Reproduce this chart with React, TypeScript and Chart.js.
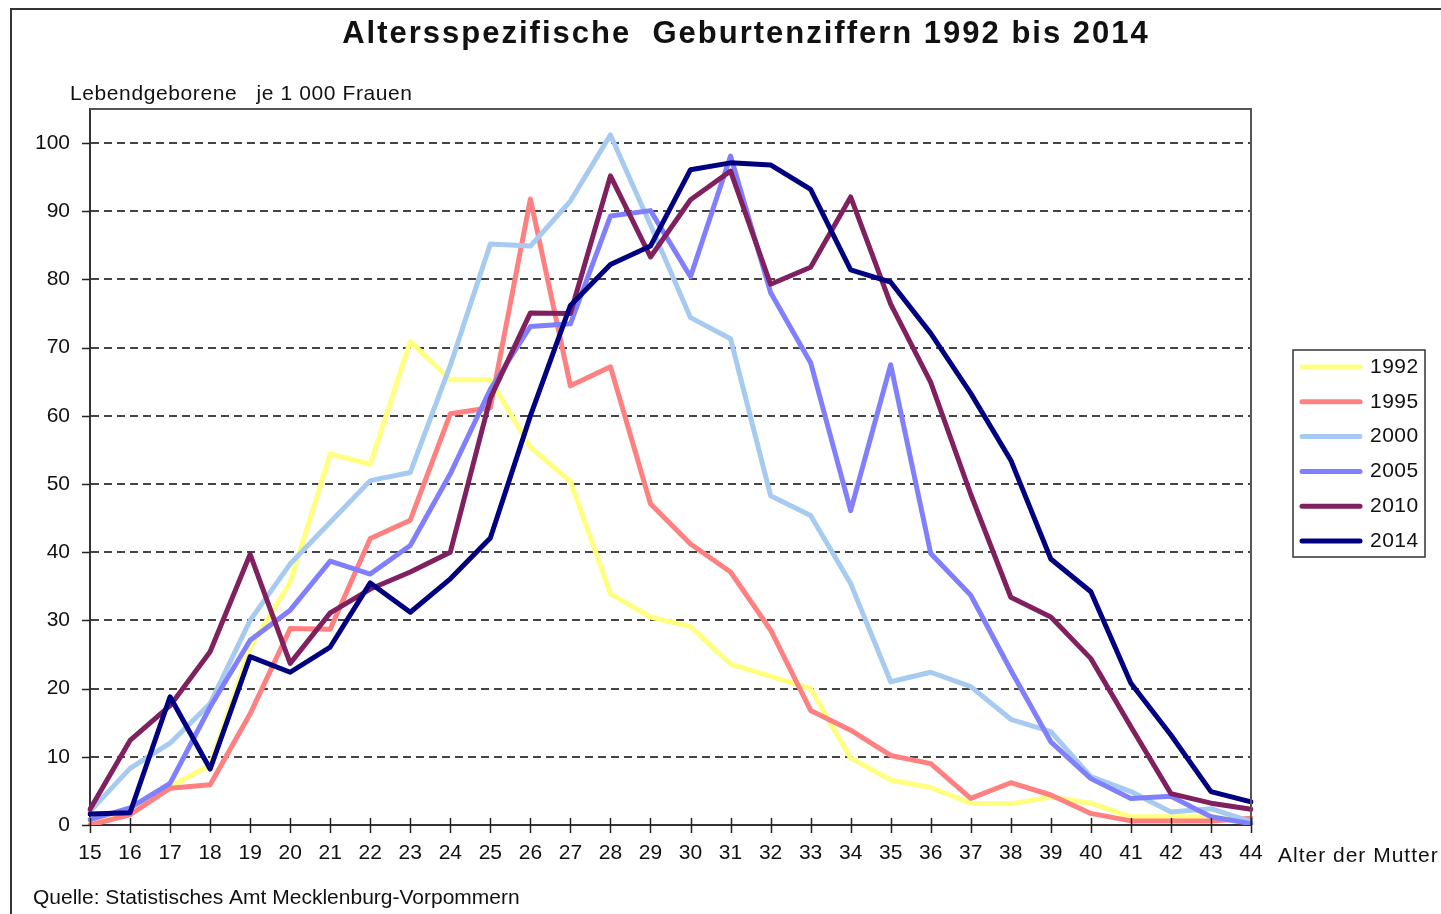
import React, { useEffect, useRef } from "react";
import { Chart, registerables } from "chart.js";

Chart.register(...registerables);

const ages = ["15","16","17","18","19","20","21","22","23","24","25","26","27","28","29","30","31","32","33","34","35","36","37","38","39","40","41","42","43","44"];
const years = ["1992", "1995", "2000", "2005", "2010", "2014"];
const seriesColors = ["#FFFF80", "#FF8080", "#A6CAF0", "#8080FF", "#80205F", "#000080"];

const v1992 = [0.5, 2, 5.6, 8.8, 26, 35.6, 54.4, 52.9, 70.9, 65.3, 65.3, 55.4, 50.4, 33.9, 30.5, 29.1, 23.6, 21.8, 20, 9.8, 6.6, 5.5, 3.2, 3.1, 4.1, 3.2, 1.2, 1.2, 1.2, 0.5];
const v1995 = [0, 1.5, 5.4, 5.9, 16.3, 28.8, 28.7, 42, 44.7, 60.3, 61.2, 91.8, 64.4, 67.2, 47.1, 41.2, 37.1, 28.6, 16.8, 13.9, 10.2, 9.0, 3.9, 6.2, 4.4, 1.7, 0.6, 0.6, 0.6, 1.0];
const v2000 = [2, 8.3, 12, 17.8, 30, 38.3, 44.4, 50.5, 51.7, 67.4, 85.2, 84.9, 91.5, 101.2, 88, 74.4, 71.3, 48.3, 45.4, 35.4, 21, 22.4, 20.3, 15.5, 13.7, 7.1, 4.9, 1.9, 2.4, 0.5];
const v2005 = [0.8, 2.5, 6.1, 17.3, 27.1, 31.5, 38.7, 36.8, 41, 51.5, 63.9, 73.1, 73.5, 89.3, 90.1, 80.4, 98.1, 78.1, 67.8, 46.1, 67.5, 39.8, 33.7, 22.7, 12.2, 6.8, 3.9, 4.2, 1.2, 0.2];
const v2010 = [2.3, 12.4, 17.5, 25.4, 39.7, 23.7, 31.1, 34.6, 37.1, 40, 62.6, 75.1, 75, 95.2, 83.3, 91.7, 95.9, 79.3, 81.8, 92.1, 76.4, 64.9, 48.5, 33.4, 30.5, 24.4, 14.4, 4.6, 3.2, 2.3];
const v2014 = [1.6, 1.8, 18.8, 8.2, 24.7, 22.4, 26.1, 35.5, 31.2, 36.1, 42.1, 60, 76.2, 82.2, 84.9, 96.1, 97.1, 96.8, 93.2, 81.4, 79.6, 72.1, 63.3, 53.5, 39, 34.2, 20.8, 13.2, 4.9, 3.4];

const allValues = [v1992, v1995, v2000, v2005, v2010, v2014];

const titleText = "Altersspezifische  Geburtenziffern 1992 bis 2014";
const yAxisLabel = "Lebendgeborene   je 1 000 Frauen";
const xAxisLabel = "Alter der Mutter";
const sourceText = "Quelle: Statistisches Amt Mecklenburg-Vorpommern";

const FONT = '"Liberation Sans", Arial, sans-serif';

function text(ctx: any, s: string, x: number, y: number, font: string, spacing: number, align: CanvasTextAlign) {
  ctx.font = font;
  ctx.letterSpacing = spacing + "px";
  ctx.textAlign = align;
  ctx.fillText(s, x, y);
  ctx.letterSpacing = "0px";
}

const decorPlugin = {
  id: "decor",
  afterDraw(chart: any) {
    const ctx = chart.ctx as CanvasRenderingContext2D;
    const area = chart.chartArea;
    const xs = chart.scales.x;
    const ys = chart.scales.y;
    ctx.save();

    // outer frame
    ctx.strokeStyle = "#333";
    ctx.lineWidth = 2;
    ctx.beginPath();
    ctx.moveTo(11, 914);
    ctx.lineTo(11, 9);
    ctx.lineTo(1441, 9);
    ctx.stroke();

    // plot frame top/right
    ctx.strokeStyle = "#555";
    ctx.lineWidth = 2;
    ctx.beginPath();
    ctx.moveTo(area.left, area.top);
    ctx.lineTo(area.right, area.top);
    ctx.lineTo(area.right, area.bottom);
    ctx.stroke();

    // tick marks
    ctx.strokeStyle = "#222";
    ctx.lineWidth = 1.5;
    ctx.beginPath();
    for (let i = 0; i < ages.length; i++) {
      const x = Math.round(xs.getPixelForValue(i)) + 0.5;
      ctx.moveTo(x, area.bottom - 7);
      ctx.lineTo(x, area.bottom + 8);
    }
    ys.ticks.forEach((t: any) => {
      if (t.value > 100) return;
      const y = Math.round(ys.getPixelForValue(t.value)) + 0.5;
      ctx.moveTo(area.left - 8, y);
      ctx.lineTo(area.left, y);
    });
    ctx.stroke();

    // texts
    ctx.fillStyle = "#111";
    ctx.textBaseline = "middle";
    text(ctx, titleText, 746, 34, `bold 31px ${FONT}`, 2, "center");
    text(ctx, yAxisLabel, 70, 94, `21px ${FONT}`, 0.6, "left");
    text(ctx, xAxisLabel, 1278, 856, `21px ${FONT}`, 1, "left");
    text(ctx, sourceText, 33, 898, `21px ${FONT}`, 0, "left");

    // legend
    const lx = 1293, ly = 350, lw = 132, lh = 207;
    ctx.fillStyle = "#fff";
    ctx.fillRect(lx, ly, lw, lh);
    ctx.strokeStyle = "#333";
    ctx.lineWidth = 1.5;
    ctx.strokeRect(lx, ly, lw, lh);
    chart.data.datasets.forEach((ds: any, i: number) => {
      const y = 367 + i * 34.8;
      ctx.strokeStyle = ds.borderColor;
      ctx.lineWidth = 5;
      ctx.lineCap = "round";
      ctx.beginPath();
      ctx.moveTo(1302, y);
      ctx.lineTo(1360, y);
      ctx.stroke();
      ctx.fillStyle = "#111";
      text(ctx, ds.label, 1370, y, `21px ${FONT}`, 0.5, "left");
    });
    ctx.restore();
  },
};

export default function App() {
  const ref = useRef<HTMLCanvasElement | null>(null);
  useEffect(() => {
    if (!ref.current) return;
    const n = years.length;
    const chart = new Chart(ref.current, {
      type: "line",
      data: {
        labels: ages,
        datasets: years.map((y, i) => ({
          label: y,
          data: allValues[i],
          borderColor: seriesColors[i],
          backgroundColor: seriesColors[i],
          borderWidth: 5,
          pointRadius: 0,
          tension: 0,
          borderJoinStyle: "round" as const,
          borderCapStyle: "round" as const,
          order: n - 1 - i,
        })),
      },
      options: {
        responsive: false,
        animation: false,
        layout: { padding: { top: 109, right: 190, left: 0, bottom: 0 } },
        plugins: { legend: { display: false }, title: { display: false }, tooltip: { enabled: false } },
        scales: {
          x: {
            type: "category",
            offset: false,
            grid: { display: false, drawTicks: false },
            border: { display: true, color: "#333", width: 2 },
            ticks: {
              autoSkip: false,
              maxRotation: 0,
              padding: 16,
              color: "#111",
              font: { family: FONT, size: 21 },
            },
            afterFit: (s: any) => { s.height = 89; },
          },
          y: {
            min: 0,
            max: 105,
            grid: {
              drawTicks: false,
              color: (c: any) => (c.tick && c.tick.value > 0 && c.tick.value <= 100 ? "#444" : "transparent"),
              lineWidth: 2,
            },
            border: { display: true, color: "#333", width: 2, dash: [8, 5] },
            ticks: {
              stepSize: 10,
              includeBounds: false,
              padding: 20,
              color: "#111",
              font: { family: FONT, size: 21 },
              callback: (v: any) => (v > 100 ? "" : String(v)),
            },
            afterFit: (s: any) => { s.width = 90; },
          },
        },
      },
      plugins: [decorPlugin],
    });
    return () => chart.destroy();
  }, []);
  return (
    <div style={{ position: "absolute", left: 0, top: 0, width: 1441, height: 914, background: "#fff" }}>
      <canvas ref={ref} width={1441} height={914} style={{ width: 1441, height: 914, display: "block" }} />
    </div>
  );
}
